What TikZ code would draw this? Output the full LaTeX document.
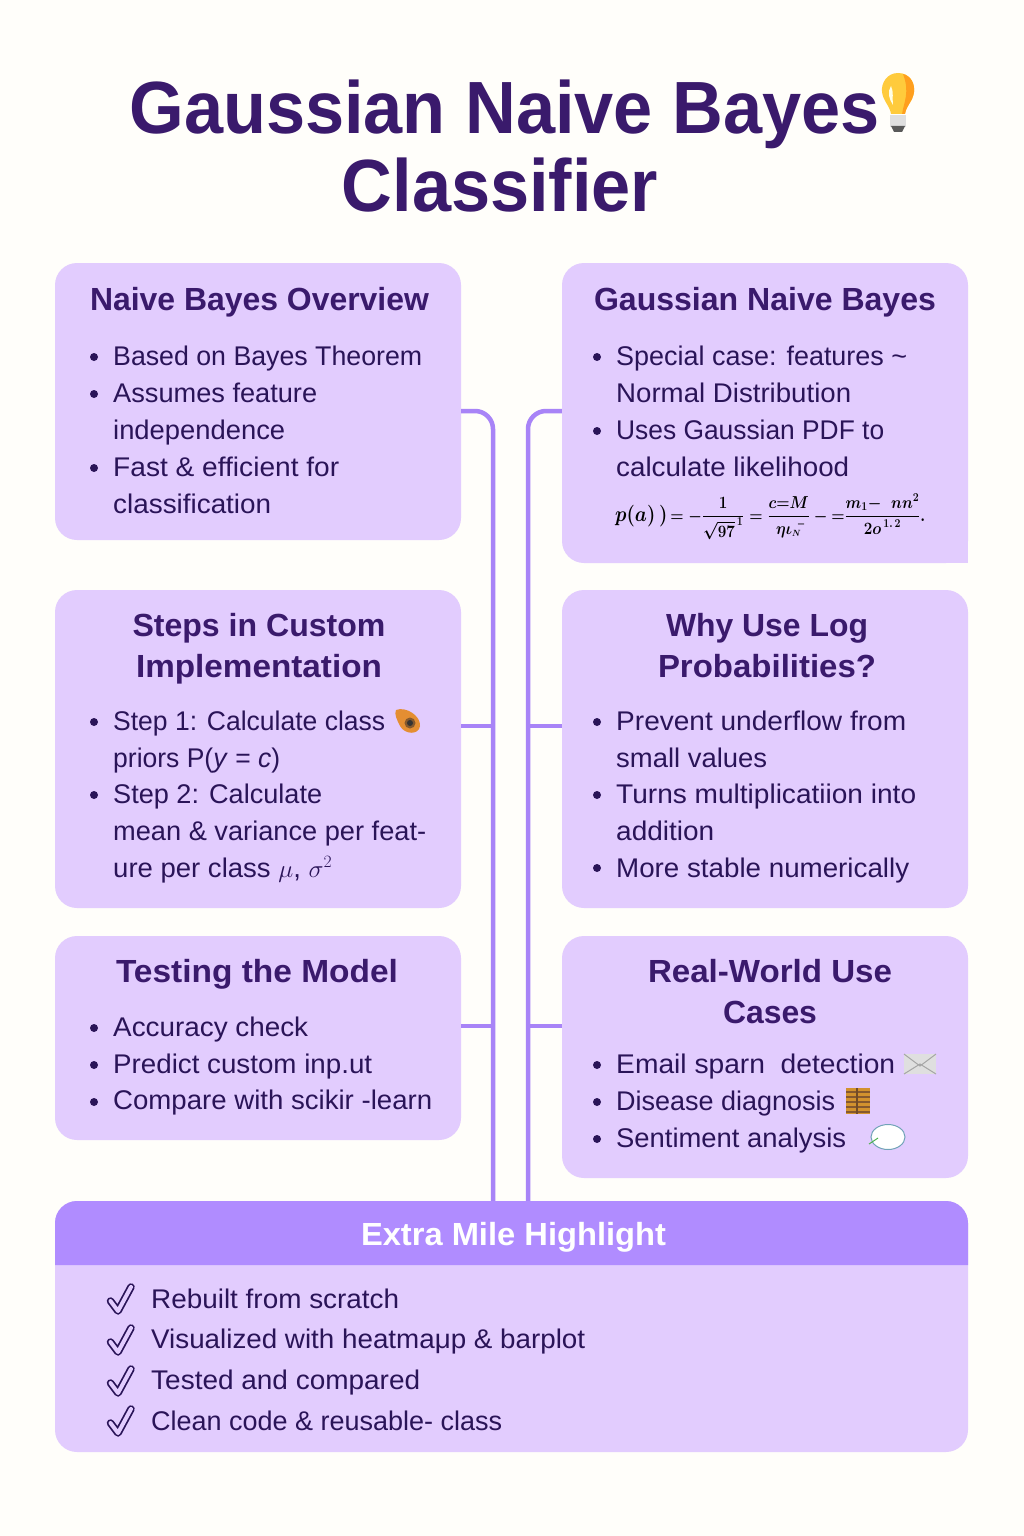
\documentclass[tikz,border=0pt]{standalone}
\usepackage{fontspec}
\usepackage{graphicx}
\setmainfont{Liberation Sans}
\newfontfamily\titlefont[FakeStretch=0.95]{Liberation Sans}
\usetikzlibrary{calc}
\definecolor{pagebg}{HTML}{FFFEFA}
\definecolor{card}{HTML}{E2CCFE}
\definecolor{head}{HTML}{B08CFF}
\definecolor{line}{HTML}{A884F7}
\definecolor{ink}{HTML}{2A1458}
\definecolor{titleink}{HTML}{3A1A6C}
\definecolor{bulbyellow}{HTML}{FFCB3C}
\definecolor{bulborange}{HTML}{FF9F1E}
\definecolor{seedorange}{HTML}{E48E32}
\definecolor{brickgold}{HTML}{D2922E}
\tikzset{
  cardbox/.style={fill=card,rounded corners=22pt,inner sep=0pt,minimum width=406pt},
  conn/.style={draw=line,line width=4.5pt,rounded corners=18pt},
  branch/.style={draw=line,line width=4.5pt},
  bodytxt/.style={anchor=base west,inner sep=0pt,text=ink,font=\fontsize{27}{37}\selectfont},
  headtxt/.style={anchor=north,inner sep=0pt,text=titleink,align=center,font=\fontsize{32}{41}\selectfont\bfseries},
  titletxt/.style={anchor=base,inner sep=0pt,text=titleink,font=\fontsize{74}{76}\selectfont\titlefont\bfseries},
  bul/.style={circle,fill=ink,inner sep=0pt,minimum size=8pt},
}
% set one line of text to the given width
\newcommand\fw[2]{\setbox0=\hbox{#2}\pgfmathsetmacro\fwr{#1/\the\wd0}\scalebox{\fwr}[1]{\box0}}
\newcommand\twol[2]{\vtop{\hbox{#1}\hbox{#2}}}
\newcommand\chk[1]{%
  \draw[ink,line width=7.5pt,line cap=round,line join=round] (110.5,#1+3) -- (118,#1+13) -- (131,#1-11);
  \draw[card,line width=4pt,line cap=round,line join=round] (110.5,#1+3) -- (118,#1+13) -- (131,#1-11);}
\begin{document}
\begin{tikzpicture}[x=1pt,y=-1pt]
\useasboundingbox (0,0) rectangle (1024,1536);
\fill[pagebg] (0,0) rectangle (1024,1536);

% title
\node[titletxt] (t1) at (504.5,134) {Gaussian Naive Bayes};
\node[titletxt] (t2) at (500,211) {Classifier};
% bulb
\fill[bulbyellow] (898,73) .. controls (910,73) and (915,83) .. (914,92) .. controls (913,101) and (906,106) .. (905,114) -- (891,114) .. controls (890,106) and (883,101) .. (882,92) .. controls (881,83) and (887,73) .. (898,73) -- cycle;
\fill[bulborange] (903,74) .. controls (911,76) and (915,84) .. (914,92) .. controls (913,101) and (906,106) .. (905,114) -- (902,114) .. controls (904,102) and (910,92) .. (903,74) -- cycle;
\fill[white!90!yellow] (891,86) .. controls (887,92) and (889,99) .. (893,105) .. controls (892,98) and (894,92) .. (891,86) -- cycle;
\fill[gray!25] (890,115) rectangle (906,127);
\fill[gray!70!black] (891,126) -- (905,126) -- (902,132) -- (894,132) -- cycle;

% cards
\node[cardbox,minimum height=277pt] (nb) at (258,401.5) {};
\node[cardbox,minimum height=318pt] (st) at (258,749) {};
\node[cardbox,minimum height=204pt] (te) at (258,1038) {};
\node[cardbox,minimum height=300pt] (gn) at (765,413) {};
\fill[card] (940,535) rectangle (968,563);
\node[cardbox,minimum height=318pt] (lg) at (765,749) {};
\node[cardbox,minimum height=242pt] (rw) at (765,1057) {};
\node[cardbox,minimum width=913pt,minimum height=251pt] (hl) at (511.5,1326.5) {};
\fill[head,rounded corners=22pt] (55,1265) -- (55,1201) -- (968,1201) -- (968,1265);

% connectors
\coordinate (tl) at (493,411);
\coordinate (tr) at (528,411);
\draw[conn] ([yshift=-9.5pt]nb.east) -| (hl.north -| tl);
\draw[conn] ([yshift=2pt]gn.west) -| (hl.north -| tr);
\draw[branch] ([yshift=23pt]st.east) -- ([yshift=23pt]st.east -| tl);
\draw[branch] ([yshift=12pt]te.east) -- ([yshift=12pt]te.east -| tl);
\draw[branch] ([yshift=23pt]lg.west) -- ([yshift=23pt]lg.west -| tr);
\draw[branch] ([yshift=31pt]rw.west) -- ([yshift=31pt]rw.west -| tr);

% headings
\node[headtxt] (h1) at (259.5,287) {\fw{339}{Naive Bayes Overview}};
\node[headtxt] (h2) at (765,287) {\fw{342}{Gaussian Naive Bayes}};
\node[headtxt] (h3) at (259,613) {\fw{253}{Steps in Custom}\\\fw{246}{Implementation}};
\node[headtxt] (h4) at (767,613) {\fw{202}{Why Use Log}\\\fw{218}{Probabilities?}};
\node[headtxt] (h5) at (257,959) {\fw{282}{Testing the Model}};
\node[headtxt] (h6) at (770,959) {\fw{244}{Real-World Use}\\\fw{94}{Cases}};
\node[headtxt,text=white] (h7) at (513.5,1222) {\fw{305}{Extra Mile Highlight}};

% left 1
\node[bul] (b1) at (94,357) {};
\node[bodytxt] (a1) at (113,365) {\fw{309}{Based on Bayes Theorem}};
\node[bul] (b2) at (94,394) {};
\node[bodytxt] (a2) at (113,402) {\twol{\fw{204}{Assumes feature}}{\fw{172}{independence}}};
\node[bul] (b3) at (94,468) {};
\node[bodytxt] (a3) at (113,476) {\twol{\fw{226}{Fast \& efficient for}}{\fw{158}{classification}}};

% right 1
\node[bul] (b4) at (597,357) {};
\node[bodytxt] (a4) at (616,365) {\twol{\fw{291}{Special case: features \textasciitilde}}{\fw{235}{Normal Distribution}}};
\node[bul] (b5) at (597,431) {};
\node[bodytxt] (a5) at (616,439) {\twol{\fw{268}{Uses Gaussian PDF to}}{\fw{233}{calculate likelihood}}};
\node[anchor=base west,inner sep=0pt,text=black,font=\fontsize{18}{22}\selectfont\boldmath] (fm) at (615,521)
  {\fw{310}{\scalebox{1.25}{$p(a)\,)$}$\displaystyle\,=-\frac{1}{\sqrt{97}^{\,1}}=\frac{\textstyle c{=}M}{\textstyle \eta\iota_{\scriptscriptstyle N}\bar{}}-{=}\frac{\textstyle m_{1}{-}\;\;nn^{2}}{\textstyle 2o^{\,1.\,2}}.$}};

% left 2
\node[bul] (b6) at (94,722) {};
\node[bodytxt] (a6) at (113,730) {\twol{\fw{272}{Step 1: Calculate class}}{\fw{167}{priors P(\textit{y} = \textit{c})}}};
\node[bul] (b7) at (94,795) {};
\node[bodytxt] (a7) at (113,803) {\vtop{\hbox{\fw{209}{Step 2: Calculate}}\hbox{\fw{313}{mean \& variance per feat-}}\hbox{\fw{219}{ure per class $\mu$, $\sigma^{2}$}}}};
% seed
\fill[seedorange] (396,710) .. controls (406,706) and (421,716) .. (420,726) .. controls (419,735) and (405,735) .. (400,726) .. controls (397,720) and (394,714) .. (396,710) -- cycle;
\fill[brown!70!black] (410,723) circle (5.5);
\fill[black!60!gray] (410,723) circle (3);

% right 2
\node[bul] (b8) at (597,722) {};
\node[bodytxt] (a8) at (616,730) {\twol{\fw{290}{Prevent underflow from}}{\fw{151}{small values}}};
\node[bul] (b9) at (597,795) {};
\node[bodytxt] (a9) at (616,803) {\twol{\fw{300}{Turns multiplicatiion into}}{\fw{98}{addition}}};
\node[bul] (b10) at (597,868) {};
\node[bodytxt] (a10) at (616,877) {\fw{293}{More stable numerically}};

% left 3
\node[bul] (b11) at (94,1028) {};
\node[bodytxt] (a11) at (113,1036) {\fw{195}{Accuracy check}};
\node[bul] (b12) at (94,1065) {};
\node[bodytxt] (a12) at (113,1073) {\fw{259}{Predict custom inp.ut}};
\node[bul] (b13) at (94,1102) {};
\node[bodytxt] (a13) at (113,1109) {\fw{319}{Compare with scikir -learn}};

% right 3
\node[bul] (b14) at (597,1065) {};
\node[bodytxt] (a14) at (616,1073) {\fw{279}{Email sparn\ \ detection}};
\node[bul] (b15) at (597,1102) {};
\node[bodytxt] (a15) at (616,1110) {\fw{219}{Disease diagnosis}};
\node[bul] (b16) at (597,1139) {};
\node[bodytxt] (a16) at (616,1147) {\fw{230}{Sentiment analysis}};
% envelope
\fill[gray!25] (904,1054) rectangle (936,1074);
\draw[gray!70,line width=1pt] (904,1054) -- (920,1066) -- (936,1054) (904,1074) -- (920,1064) -- (936,1074);
% bricks
\fill[brickgold] (846,1088) rectangle (870,1114);
\foreach \yy in {1092,1097,1102,1107,1112} \draw[brown!70!black,line width=1.2pt] (846,\yy) -- (870,\yy);
\draw[brown!60!black,line width=2.5pt] (857,1088) -- (857,1114);
% bubble
\fill[white] (888,1137) ellipse (17 and 12.5);
\draw[cyan!40!gray,line width=1pt] (888,1137) ellipse (17 and 12.5);
\draw[green!40!gray,line width=1pt] (878,1138) -- (869,1144);

% highlight list
\chk{1298}
\node[bodytxt] (c1) at (151,1308) {\fw{248}{Rebuilt from scratch}};
\chk{1339}
\node[bodytxt] (c2) at (151,1348) {\fw{434}{Visualized with heatmaμp \& barplot}};
\chk{1380}
\node[bodytxt] (c3) at (151,1389) {\fw{269}{Tested and compared}};
\chk{1420}
\node[bodytxt] (c4) at (151,1430) {\fw{351}{Clean code \& reusable- class}};
\end{tikzpicture}
\end{document}
